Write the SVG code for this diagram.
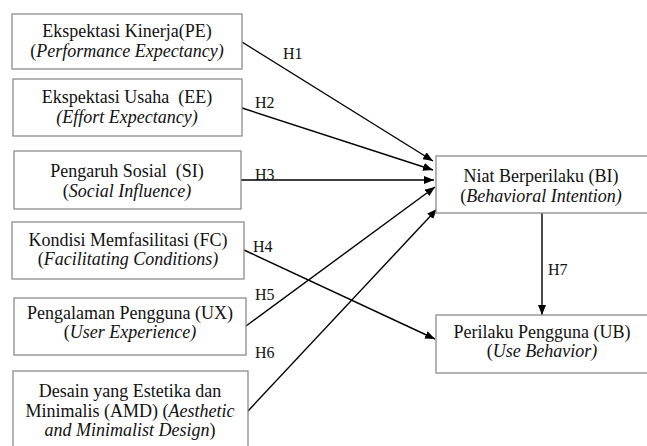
<svg xmlns="http://www.w3.org/2000/svg" width="647" height="446" viewBox="0 0 647 446">
<style>
.box{fill:#fff;stroke:#8c8c8c;stroke-width:1.3}
.t{font-family:'Liberation Serif','DejaVu Serif',serif;font-size:18px;fill:#111;text-anchor:middle;white-space:pre}
.i{font-style:italic}
.lbl{font-family:'Liberation Serif','DejaVu Serif',serif;font-size:16px;fill:#111}
.c{stroke:#000;stroke-width:1.4;fill:none;marker-end:url(#ah)}
</style>
<defs>
<marker id="ah" viewBox="0 0 10 8" refX="10" refY="4" markerWidth="10" markerHeight="8" markerUnits="userSpaceOnUse" orient="auto">
<path d="M0,0 L10,4 L0,8 z" fill="#000"/>
</marker>
</defs>
<rect width="647" height="446" fill="#fff"/>
<g id="connectors">
<line class="c" x1="242" y1="42" x2="433" y2="161"/>
<line class="c" x1="242" y1="108" x2="433" y2="170"/>
<line class="c" x1="241" y1="180" x2="434" y2="180"/>
<line class="c" x1="244" y1="250" x2="435" y2="339"/>
<line class="c" x1="246" y1="326" x2="435" y2="187"/>
<line class="c" x1="248" y1="411" x2="437" y2="209"/>
<line class="c" x1="542" y1="213" x2="542" y2="315"/>
<text class="lbl" x="283" y="59">H1</text>
<text class="lbl" x="255" y="108">H2</text>
<text class="lbl" x="255" y="180">H3</text>
<text class="lbl" x="253" y="252">H4</text>
<text class="lbl" x="255" y="300">H5</text>
<text class="lbl" x="255" y="358">H6</text>
<text class="lbl" x="548" y="275">H7</text>
</g>
<g id="PE">
<rect class="box" x="12" y="14" width="230" height="55"/>
<text class="t" x="127" y="37">Ekspektasi Kinerja(PE)</text>
<text class="t" x="127" y="57">(<tspan class="i">Performance Expectancy)</tspan></text>
</g>
<g id="EE">
<rect class="box" x="13" y="79" width="229" height="57"/>
<text class="t" x="127" y="103">Ekspektasi Usaha  (EE)</text>
<text class="t i" x="127" y="123">(Effort Expectancy)</text>
</g>
<g id="SI">
<rect class="box" x="14" y="151" width="227" height="58"/>
<text class="t" x="127" y="177">Pengaruh Sosial  (SI)</text>
<text class="t" x="127" y="197">(<tspan class="i">Social Influence)</tspan></text>
</g>
<g id="FC">
<rect class="box" x="12" y="222" width="232" height="57"/>
<text class="t" x="128" y="246">Kondisi Memfasilitasi (FC)</text>
<text class="t" x="128" y="265">(<tspan class="i">Facilitating Conditions)</tspan></text>
</g>
<g id="UX">
<rect class="box" x="14" y="298" width="232" height="57"/>
<text class="t" x="130" y="319">Pengalaman Pengguna (UX)</text>
<text class="t" x="130" y="338">(<tspan class="i">User Experience)</tspan></text>
</g>
<g id="AMD">
<rect class="box" x="13" y="371" width="235" height="90"/>
<text class="t" x="130" y="397">Desain yang Estetika dan</text>
<text class="t" x="130" y="417">Minimalis (AMD) (<tspan class="i">Aesthetic</tspan></text>
<text class="t" x="130" y="436"><tspan class="i">and Minimalist Design</tspan>)</text>
</g>
<g id="BI">
<rect class="box" x="436" y="156" width="215" height="57"/>
<text class="t" x="541" y="182">Niat Berperilaku (BI)</text>
<text class="t" x="541" y="202">(<tspan class="i">Behavioral Intention)</tspan></text>
</g>
<g id="UB">
<rect class="box" x="436" y="315" width="215" height="58"/>
<text class="t" x="542" y="338">Perilaku Pengguna (UB)</text>
<text class="t" x="542" y="357">(<tspan class="i">Use Behavior)</tspan></text>
</g>
</svg>
